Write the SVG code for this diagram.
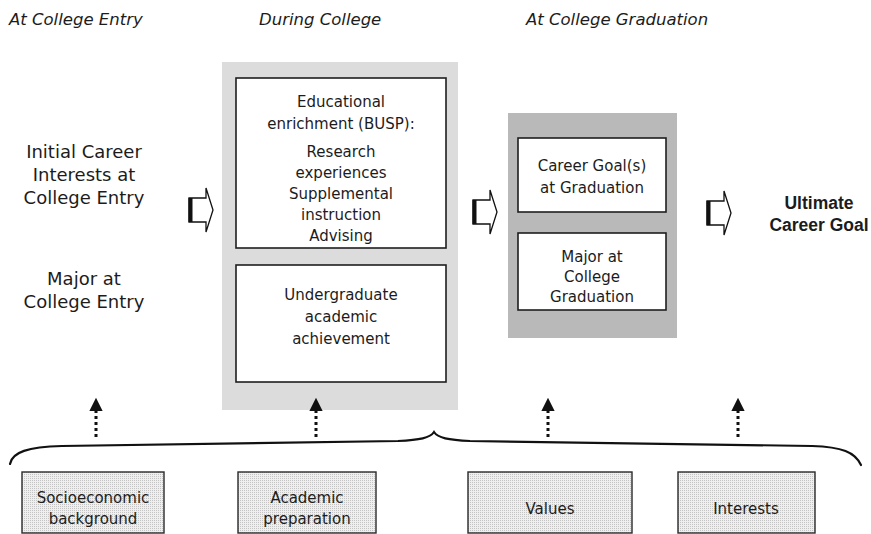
<svg xmlns="http://www.w3.org/2000/svg" width="871" height="534" viewBox="0 0 871 534">
  <style>
    text { font-family: "DejaVu Sans", "Liberation Sans", sans-serif; fill: #1c1c1c; text-anchor: middle; }
    .head { font-style: italic; font-size: 16.5px; text-anchor: start; }
    .lbl { font-size: 18px; }
    .box { font-size: 15px; }
    .bold { font-family: "Liberation Sans", "DejaVu Sans", sans-serif; font-weight: bold; font-size: 17.5px; }
    .inner { fill: #ffffff; stroke: #1e1e1e; stroke-width: 1.6; }
    .factor { fill: url(#stipple); stroke: #2a2a2a; stroke-width: 1.4; }
    .dots { stroke: #111; stroke-width: 3; stroke-dasharray: 3 3; fill: none; }
    .brace { stroke: #111; stroke-width: 2.2; fill: none; stroke-linecap: round; }
  </style>
  <defs>
    <pattern id="stipple" width="2" height="2" patternUnits="userSpaceOnUse">
      <rect width="2" height="2" fill="#efefef"/>
      <rect width="1" height="1" fill="#c4c4c4"/>
    </pattern>
    <marker id="tip" markerWidth="4.4" markerHeight="4.4" refX="2" refY="2.2" orient="auto" markerUnits="strokeWidth">
      <path d="M0,0 L4.4,2.2 L0,4.4 Z" fill="#111"/>
    </marker>
    <g id="blockArrow">
      <path d="M0,-12 H17 V-22 L24,0 L17,22 V12 H0 Z" fill="#fff" stroke="#111" stroke-width="1.3"/>
      <line x1="1.5" y1="-12" x2="1.5" y2="12" stroke="#111" stroke-width="4"/>
    </g>
  </defs>

  <!-- phase headings -->
  <text class="head" x="9" y="25">At College Entry</text>
  <text class="head" x="259" y="25">During College</text>
  <text class="head" x="526" y="25">At College Graduation</text>

  <!-- entry column -->
  <g id="entry-interests">
    <text class="lbl" x="84" y="158">Initial Career</text>
    <text class="lbl" x="84" y="181">Interests at</text>
    <text class="lbl" x="84" y="204">College Entry</text>
  </g>
  <g id="entry-major">
    <text class="lbl" x="84" y="285">Major at</text>
    <text class="lbl" x="84" y="308">College Entry</text>
  </g>

  <!-- during college panel -->
  <g id="during-panel">
    <rect x="222" y="62" width="236" height="348" fill="#dcdcdc"/>
  </g>
  <g id="enrichment">
    <rect class="inner" x="236" y="78" width="210" height="170"/>
    <text class="box" x="341" y="107">Educational</text>
    <text class="box" x="341" y="129">enrichment (BUSP):</text>
    <text class="box" x="341" y="157">Research</text>
    <text class="box" x="341" y="178">experiences</text>
    <text class="box" x="341" y="199">Supplemental</text>
    <text class="box" x="341" y="220">instruction</text>
    <text class="box" x="341" y="241">Advising</text>
  </g>
  <g id="achievement">
    <rect class="inner" x="236" y="265" width="210" height="117"/>
    <text class="box" x="341" y="300">Undergraduate</text>
    <text class="box" x="341" y="322">academic</text>
    <text class="box" x="341" y="344">achievement</text>
  </g>

  <!-- graduation panel -->
  <g id="graduation-panel">
    <rect x="508" y="113" width="169" height="225" fill="#b9b9b9"/>
  </g>
  <g id="career-goals">
    <rect class="inner" x="518" y="138" width="148" height="74"/>
    <text class="box" x="592" y="171">Career Goal(s)</text>
    <text class="box" x="592" y="193">at Graduation</text>
  </g>
  <g id="major-graduation">
    <rect class="inner" x="518" y="233" width="148" height="77"/>
    <text class="box" x="592" y="262">Major at</text>
    <text class="box" x="592" y="282">College</text>
    <text class="box" x="592" y="302">Graduation</text>
  </g>

  <!-- outcome -->
  <g id="ultimate-goal">
    <text class="bold" x="819" y="209">Ultimate</text>
    <text class="bold" x="819" y="231">Career Goal</text>
  </g>

  <!-- background factors -->
  <g id="socioeconomic">
    <rect class="factor" x="22" y="472" width="142" height="61"/>
    <text class="box" x="93" y="503">Socioeconomic</text>
    <text class="box" x="93" y="524">background</text>
  </g>
  <g id="academic-prep">
    <rect class="factor" x="238" y="472" width="138" height="61"/>
    <text class="box" x="307" y="503">Academic</text>
    <text class="box" x="307" y="524">preparation</text>
  </g>
  <g id="values">
    <rect class="factor" x="468" y="472" width="164" height="61"/>
    <text class="box" x="550" y="514">Values</text>
  </g>
  <g id="interests">
    <rect class="factor" x="678" y="472" width="137" height="61"/>
    <text class="box" x="746" y="514">Interests</text>
  </g>

  <!-- connectors -->
  <g id="connectors">
    <use href="#blockArrow" x="189" y="210"/>
    <use href="#blockArrow" x="473" y="212"/>
    <use href="#blockArrow" x="707" y="213"/>

    <line class="dots" x1="96" y1="437" x2="96" y2="405" marker-end="url(#tip)"/>
    <line class="dots" x1="316" y1="437" x2="316" y2="405" marker-end="url(#tip)"/>
    <line class="dots" x1="548" y1="437" x2="548" y2="405" marker-end="url(#tip)"/>
    <line class="dots" x1="738" y1="437" x2="738" y2="405" marker-end="url(#tip)"/>

    <path class="brace" d="M10,464 C12,452 28,447 62,446 L398,441 C420,440 430,438 434,432 C438,438 448,440 470,441 L812,446 C842,447 855,452 861,465"/>
  </g>
</svg>
